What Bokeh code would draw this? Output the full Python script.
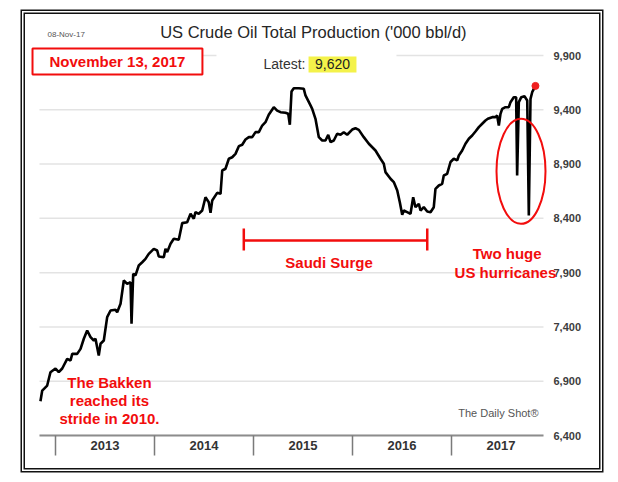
from bokeh.plotting import figure
from bokeh.models import Range1d, FixedTicker, NumeralTickFormatter, Label, BoxAnnotation
from bokeh.embed import file_html
from bokeh.resources import INLINE

# ---- data (decimal year, '000 bbl/d) ----
week = [2012.848, 2012.866, 2012.916, 2012.949, 2013.000, 2013.033, 2013.068, 2013.118, 2013.152, 2013.169,
        2013.219, 2013.253, 2013.286, 2013.320, 2013.354, 2013.387, 2013.404, 2013.437, 2013.455, 2013.488,
        2013.522, 2013.556, 2013.606, 2013.623, 2013.657, 2013.690, 2013.724, 2013.758, 2013.768, 2013.785,
        2013.808, 2013.841, 2013.876, 2013.909, 2013.942, 2013.993, 2014.027, 2014.043, 2014.094, 2014.111,
        2014.128, 2014.162, 2014.195, 2014.245, 2014.280, 2014.330, 2014.364, 2014.397, 2014.414, 2014.447,
        2014.482, 2014.515, 2014.548, 2014.566, 2014.583, 2014.633, 2014.667, 2014.684, 2014.717, 2014.751,
        2014.785, 2014.818, 2014.852, 2014.886, 2014.919, 2014.953, 2014.987, 2015.020, 2015.054, 2015.088,
        2015.121, 2015.154, 2015.205, 2015.239, 2015.273, 2015.323, 2015.351, 2015.367, 2015.384, 2015.407,
        2015.458, 2015.508, 2015.525, 2015.576, 2015.593, 2015.626, 2015.660, 2015.694, 2015.727, 2015.755,
        2015.778, 2015.811, 2015.845, 2015.879, 2015.912, 2015.946, 2015.997, 2016.030, 2016.064, 2016.114,
        2016.165, 2016.232, 2016.283, 2016.316, 2016.333, 2016.384, 2016.417, 2016.452, 2016.478, 2016.502,
        2016.518, 2016.552, 2016.586, 2016.613, 2016.636, 2016.670, 2016.687, 2016.720, 2016.755, 2016.788,
        2016.821, 2016.838, 2016.872, 2016.906, 2016.922, 2016.956, 2016.990, 2017.023, 2017.058, 2017.074,
        2017.108, 2017.141, 2017.175, 2017.209, 2017.242, 2017.276, 2017.310, 2017.343, 2017.367, 2017.411,
        2017.444, 2017.461, 2017.478, 2017.495, 2017.512, 2017.545, 2017.579, 2017.596, 2017.629, 2017.653,
        2017.663, 2017.680, 2017.705, 2017.737, 2017.765, 2017.781, 2017.798, 2017.815, 2017.848]

production = [6716, 6814, 6860, 6983, 7017, 6983, 7017, 7106, 7091, 7152,
              7152, 7198, 7291, 7367, 7306, 7275, 7291, 7137, 7245, 7275,
              7490, 7551, 7558, 7536, 7613, 7828, 7797, 7812, 7429, 7889,
              7874, 7966, 7996, 8027, 8073, 8119, 8104, 8049, 8042, 8119,
              8089, 8166, 8212, 8203, 8356, 8365, 8442, 8396, 8457, 8442,
              8472, 8595, 8549, 8451, 8564, 8635, 8626, 8841, 8857, 8949,
              8963, 8994, 9065, 9078, 9126, 9148, 9148, 9194, 9194, 9255,
              9286, 9354, 9424, 9393, 9378, 9372, 9363, 9262, 9568, 9599,
              9599, 9593, 9532, 9440, 9409, 9317, 9148, 9117, 9117, 9170,
              9102, 9117, 9179, 9170, 9194, 9170, 9218, 9230, 9215, 9148,
              9087, 9025, 8949, 8903, 8826, 8765, 8734, 8657, 8549, 8433,
              8472, 8457, 8442, 8595, 8503, 8534, 8472, 8503, 8463, 8457,
              8503, 8672, 8703, 8718, 8795, 8810, 8919, 8949, 8934, 8979,
              9025, 9087, 9133, 9163, 9200, 9240, 9271, 9301, 9317, 9332,
              9332, 9347, 9255, 9363, 9409, 9424, 9424, 9470, 9516, 9516,
              8795, 9470, 9516, 9525, 9486, 8426, 9501, 9562, 9620]

year_starts = [2013, 2014, 2015, 2016, 2017]
year_labels = ["2013", "2014", "2015", "2016", "2017"]
y_ticks = [6400, 6900, 7400, 7900, 8400, 8900, 9400, 9900]
axis_span = (2012.838, 2017.929)   # extent of the gridlines / x axis line

RED = "#f20d0d"
CAL = "Liberation Sans"

p = figure(width=574, height=454, output_backend="svg", toolbar_location=None,
           x_range=Range1d(2012.7475, 2018.101), y_range=Range1d(6400, 10222.4),
           y_axis_location="right",
           min_border_left=5, min_border_right=39, min_border_top=6, min_border_bottom=33,
           background_fill_color="white", border_fill_color="white")
# double black frame around the chart (CSS rings around the canvas)
p.styles = {"margin-left": "25px", "margin-top": "14px",
            "box-shadow": "0 0 0 1.5px #111111, 0 0 0 3px #ffffff, 0 0 0 4.5px #111111"}
p.outline_line_color = None
p.xgrid.visible = False
p.ygrid.visible = False

# horizontal gridlines at the y ticks, limited to the axis span
n = len(y_ticks)
p.segment(x0=[axis_span[0]] * n, x1=[axis_span[1]] * n, y0=y_ticks, y1=y_ticks,
          line_color="#e3e3e3", line_width=1.5, level="underlay")

yax = p.yaxis[0]
yax.ticker = FixedTicker(ticks=y_ticks)
yax.formatter = NumeralTickFormatter(format="0,0")
yax.axis_line_color = None
yax.major_tick_line_color = None
yax.minor_tick_line_color = None
yax.major_tick_in = 0
yax.major_tick_out = 0
yax.major_label_standoff = -7
yax.major_label_text_font = CAL
yax.major_label_text_font_size = "11px"
yax.major_label_text_font_style = "bold"
yax.major_label_text_color = "#3d3d3d"

xax = p.xaxis[0]
xax.bounds = axis_span
xax.ticker = FixedTicker(ticks=[y + 0.5 for y in year_starts], minor_ticks=year_starts)
xax.major_label_overrides = {y + 0.5: lab for y, lab in zip(year_starts, year_labels)}
xax.axis_line_color = "#8c8c8c"
xax.axis_line_width = 2
xax.major_tick_line_color = None
xax.major_tick_in = 0
xax.major_tick_out = 0
xax.minor_tick_in = 0
xax.minor_tick_out = 20
xax.minor_tick_line_color = "#7a7a7a"
xax.minor_tick_line_width = 1.5
xax.major_label_standoff = -15
xax.major_label_text_font = CAL
xax.major_label_text_font_size = "13px"
xax.major_label_text_font_style = "bold"
xax.major_label_text_color = "#333333"

# series
p.line(week, production, line_color="black", line_width=2.6)
p.scatter([week[-1]], [production[-1]], size=7, color="#ef1f1f")

# annotations: Saudi bracket + hurricane ellipse
p.segment(x0=[2014.902, 2014.902, 2016.755], y0=[8196, 8307, 8307],
          x1=[2016.755, 2014.902, 2016.755], y1=[8196, 8104, 8104],
          line_color=RED, line_width=2.5)
p.ellipse(x=[2017.702], y=[8833], width=[0.495], height=[967],
          fill_color=None, line_color=RED, line_width=2)

# white gap in top gridline behind "Latest", yellow highlight
p.add_layout(BoxAnnotation(left=2014.626, right=2016.444, bottom=9854, top=9946,
                           fill_color="white", fill_alpha=1, line_color=None))
p.add_layout(BoxAnnotation(left=2015.556, right=2016.040, bottom=9743, top=9891,
                           fill_color="#f4f24a", fill_alpha=1, line_color=None))

def lab(x, y, text, size, color, style="normal", align="center", font=CAL, **kw):
    p.add_layout(Label(x=x, y=y, text=text, text_font=font, text_font_size=size,
                       text_font_style=style, text_color=color, text_align=align,
                       text_baseline="middle", **kw))

lab(2015.606, 10112, "US Crude Oil Total Production ('000 bbl/d)", "16.5px", "#262626")
lab(2012.919, 10093, "08-Nov-17", "8px", "#555555", align="left")
lab(2013.626, 9845, "November 13, 2017", "15px", RED, style="bold",
    background_fill_color="white", border_line_color=RED, border_line_width=2,
    padding=(17, 17, 5, 4))
lab(2015.525, 9826, "Latest:", "14px", "#333333", align="right")
lab(2015.798, 9826, f"{production[-1]:,}", "14px", "#222222")
lab(2015.763, 7993, "Saudi Surge", "15px", RED, style="bold")
lab(2017.562, 8076, "Two huge", "15px", RED, style="bold")
lab(2017.545, 7904, "US hurricanes", "15px", RED, style="bold")
lab(2013.545, 6888, "The Bakken", "15px", RED, style="bold")
lab(2013.545, 6722, "reached its", "15px", RED, style="bold")
lab(2013.545, 6557, "stride in 2010.", "15px", RED, style="bold")
lab(2017.879, 6603, "The Daily Shot®", "11px", "#555555", align="right")

open("out.html", "w").write(file_html(p, INLINE))
